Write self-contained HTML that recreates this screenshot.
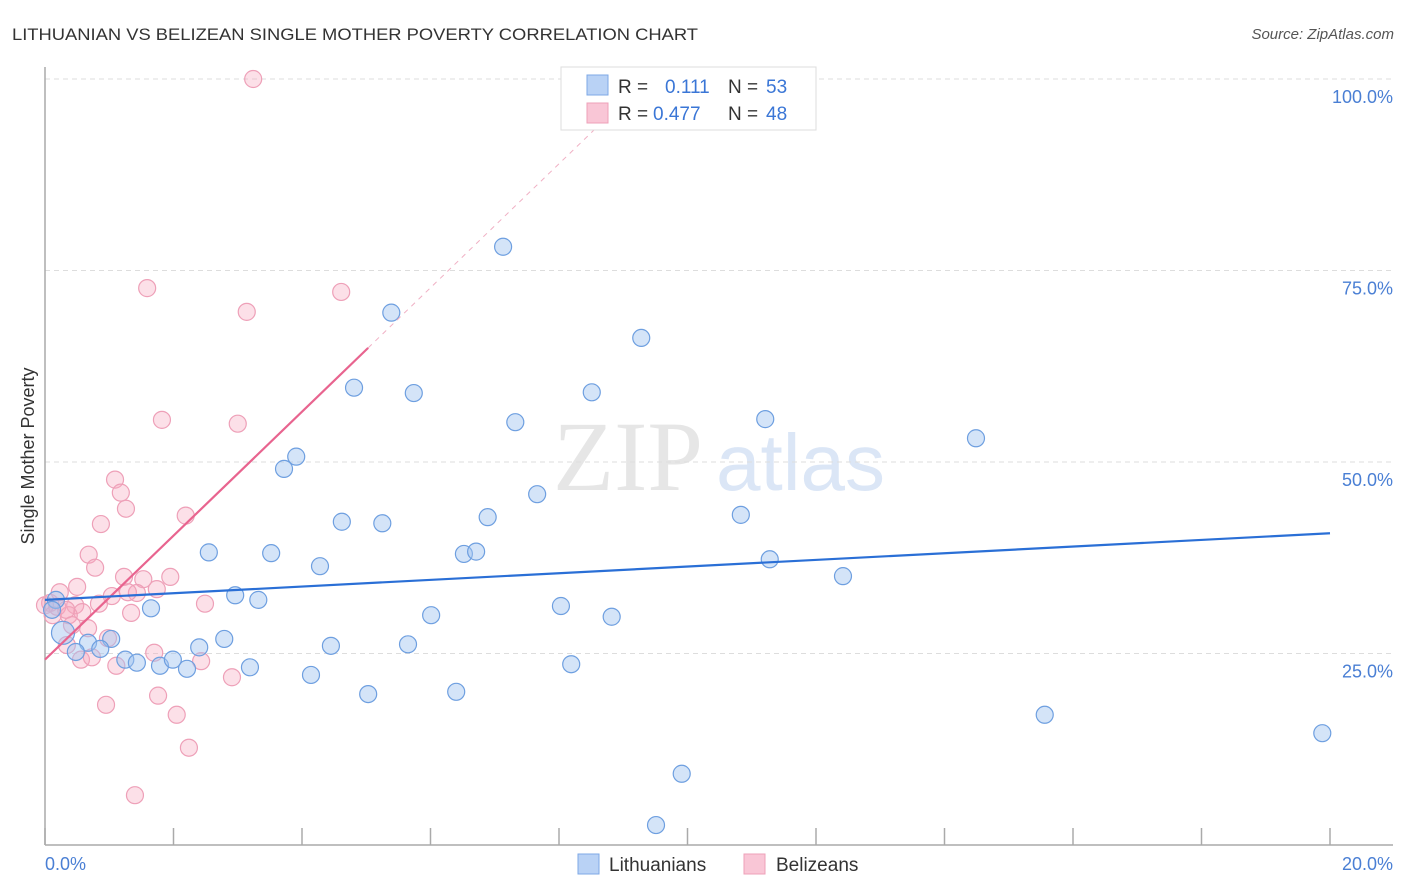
<!DOCTYPE html>
<html><head><meta charset="utf-8"><style>
html,body{margin:0;padding:0;background:#fff;}
svg{display:block;font-family:"Liberation Sans",sans-serif;}
</style></head><body>
<svg id="chart" width="1406" height="892" viewBox="0 0 1406 892">
<text x="12" y="40" font-size="17" fill="#333" textLength="686" lengthAdjust="spacingAndGlyphs">LITHUANIAN VS BELIZEAN SINGLE MOTHER POVERTY CORRELATION CHART</text>
<text x="1394" y="39" font-size="15" fill="#555" font-style="italic" text-anchor="end">Source: ZipAtlas.com</text>
<g>
<text x="553" y="490" font-size="100" font-family="Liberation Serif,serif" fill="#e6e6e6">ZIP</text>
<text x="716" y="490" font-size="80" fill="#dbe6f6">atlas</text>
</g>
<g id="grid"></g>
<line x1="45" y1="67" x2="45" y2="845" stroke="#aaa" stroke-width="1.5"/>
<line x1="45" y1="845" x2="1393" y2="845" stroke="#aaa" stroke-width="1.5"/>
<g id="xticks"></g>
<g id="ylabels"></g>
<text x="45" y="870" font-size="18" fill="#4a7fd4">0.0%</text>
<text x="1393" y="870" font-size="18" fill="#4a7fd4" text-anchor="end">20.0%</text>
<text transform="translate(34,456) rotate(-90)" font-size="18" fill="#333" text-anchor="middle">Single Mother Poverty</text>
<g id="pinkpts"></g>
<g id="bluepts"></g>
<g id="lines"></g>
<g>
<rect x="561" y="67" width="255" height="63" fill="#fff" stroke="#ddd"/>
<rect x="587" y="75" width="21" height="20" fill="#b9d2f5" stroke="#7ea8e6"/>
<rect x="587" y="103" width="21" height="20" fill="#f9c6d6" stroke="#eea0b8"/>
<text x="618" y="93" font-size="19" fill="#333">R =</text>
<text x="665" y="93" font-size="19" fill="#3a76d6">0.111</text>
<text x="728" y="93" font-size="19" fill="#333">N =</text>
<text x="766" y="93" font-size="19" fill="#3a76d6">53</text>
<text x="618" y="120" font-size="19" fill="#333">R =</text>
<text x="653" y="120" font-size="19" fill="#3a76d6">0.477</text>
<text x="728" y="120" font-size="19" fill="#333">N =</text>
<text x="766" y="120" font-size="19" fill="#3a76d6">48</text>
</g>
<g>
<rect x="578" y="854" width="21" height="20" fill="#b9d2f5" stroke="#7ea8e6"/>
<text x="609" y="871" font-size="19" fill="#333">Lithuanians</text>
<rect x="744" y="854" width="21" height="20" fill="#f9c6d6" stroke="#eea0b8"/>
<text x="776" y="871" font-size="19" fill="#333">Belizeans</text>
</g>
</svg>
<script>
const blueX=[7.13,5.39,9.28,4.81,5.74,8.51,7.32,11.21,14.49,3.91,3.72,7.66,4.62,5.25,6.89,10.83,2.55,3.52,6.52,6.71,11.28,4.28,12.42,2.96,3.32,1.65,8.03,6.01,8.82,0.17,0.11,0.28,1.03,0.67,0.48,0.86,2.40,2.79,4.45,5.65,1.25,1.43,1.79,1.99,2.21,3.19,4.14,5.03,6.40,8.19,15.56,19.88,9.91,9.51];
const blueY=[78.1,69.5,66.2,59.7,59.0,59.1,55.2,55.6,53.1,50.7,49.1,45.8,42.2,42.0,42.8,43.1,38.2,38.1,38.0,38.3,37.3,36.4,35.1,32.6,32.0,30.9,31.2,30.0,29.8,32.0,30.7,27.7,26.9,26.4,25.2,25.6,25.8,26.9,26.0,26.2,24.2,23.8,23.4,24.2,23.0,23.2,22.2,19.7,20.0,23.6,17.0,14.6,9.3,2.6];
const pinkX=[3.24,1.59,4.61,3.14,1.82,3.00,1.09,1.18,1.26,0.87,2.19,0.68,0.78,0.50,0.23,1.23,1.53,1.95,1.74,1.43,1.04,1.29,0.08,0.19,0.47,0.58,0.84,0.37,2.49,1.34,0.67,0.34,0.98,0.56,0.73,1.11,1.70,2.43,2.91,1.76,0.95,2.05,2.24,1.40,0.0,0.33,0.12,0.42];
const pinkY=[100,72.7,72.2,69.6,55.5,55.0,47.7,46.0,43.9,41.9,43.0,37.9,36.2,33.7,33.0,35.0,34.7,35.0,33.4,32.9,32.5,33.0,31.6,31.1,31.3,30.4,31.5,30.0,31.5,30.3,28.3,26.1,27.0,24.2,24.5,23.4,25.1,24.0,21.9,19.5,18.3,17.0,12.7,6.5,31.3,30.7,30.0,28.7];
const blueTrend=[32.0,40.7];
const pinkTrend=[24.2,64.9];
const pinkTrendEndX=5.03;
const yTicks=[25,50,75,100];
const yTickLabels=["25.0%","50.0%","75.0%","100.0%"];
const xTicks=[0,2,4,6,8,10,12,14,16,18,20];

const NS="http://www.w3.org/2000/svg";
const sx=v=>45+v/20*1285;
const sy=v=>845-v*7.66;
function mk(tag,attrs,parent){const e=document.createElementNS(NS,tag);for(const k in attrs)e.setAttribute(k,attrs[k]);parent.appendChild(e);return e;}
const grid=document.getElementById('grid'),yl=document.getElementById('ylabels'),xt=document.getElementById('xticks');
yTicks.forEach((t,i)=>{
 const l=mk('line',{x1:45,x2:1393,y1:sy(t),y2:sy(t),stroke:'#ddd','stroke-dasharray':'5,4'},grid);
 
 
 const tx=mk('text',{x:1393,y:sy(t)+24,'font-size':18,fill:'#4a7fd4','text-anchor':'end'},yl);
 tx.textContent=yTickLabels[i];
 
 
});
xTicks.forEach(t=>{
 const l=mk('line',{x1:sx(t),x2:sx(t),y1:828,y2:845,stroke:'#aaa','stroke-width':1.5},xt);
 
 
});
const bp=document.getElementById('bluepts'),pp=document.getElementById('pinkpts');
pinkX.forEach((x,i)=>{
 const c=mk('circle',{cx:sx(x),cy:sy(pinkY[i]),r:8.5,fill:'rgba(245,165,190,0.35)',stroke:'#eea0b8','stroke-width':1.2},pp);
 
 
});
blueX.forEach((x,i)=>{
 const c=mk('circle',{cx:sx(x),cy:sy(blueY[i]),r:(i===31?11.5:8.5),fill:'rgba(160,195,240,0.45)',stroke:'#6e9fe0','stroke-width':1.2},bp);
 
 
});
const ln=document.getElementById('lines');
const slope=(pinkTrend[1]-pinkTrend[0])/pinkTrendEndX;
const d=mk('line',{x1:sx(pinkTrendEndX),y1:sy(pinkTrend[1]),x2:sx(8.64),y2:sy(pinkTrend[0]+slope*8.64),stroke:'#f0b0c4','stroke-width':1,'stroke-dasharray':'5,5'},ln);


const pl=mk('line',{x1:sx(0),y1:sy(pinkTrend[0]),x2:sx(pinkTrendEndX),y2:sy(pinkTrend[1]),stroke:'#e8648f','stroke-width':2.2},ln);


const bl=mk('line',{x1:sx(0),y1:sy(blueTrend[0]),x2:sx(20),y2:sy(blueTrend[1]),stroke:'#2a6fd6','stroke-width':2.2},ln);


</script>
</body></html>
